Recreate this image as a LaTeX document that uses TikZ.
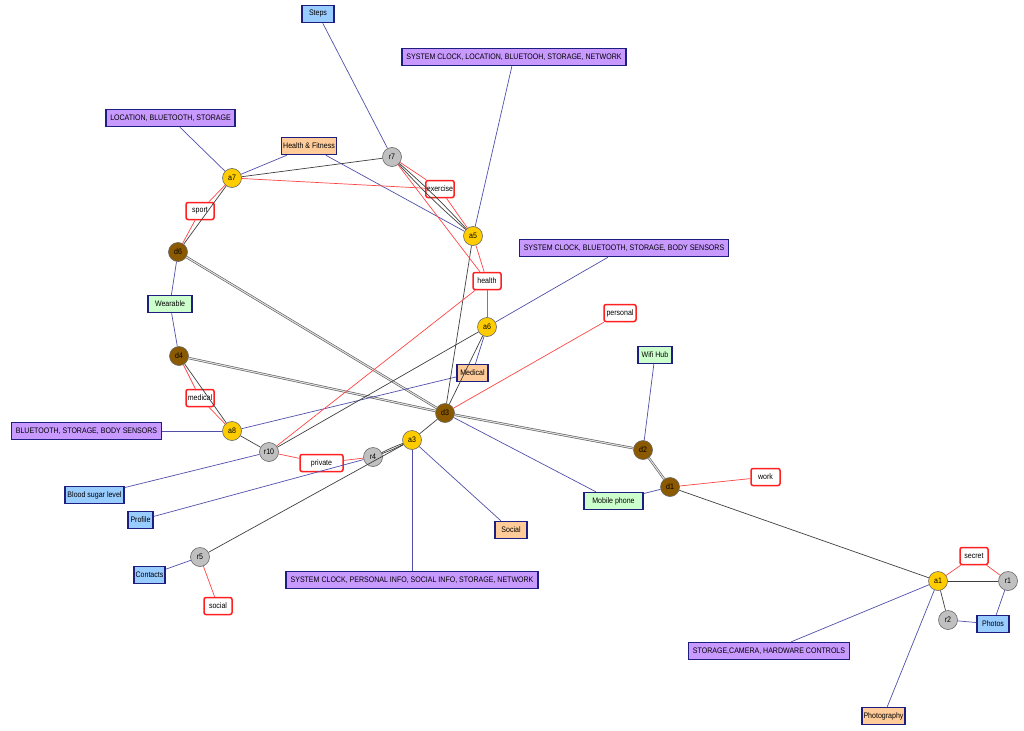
\documentclass[tikz,border=0pt]{standalone}
\usepackage{fontspec}
\setmainfont[FakeStretch=0.88]{Liberation Sans}
\definecolor{purpfill}{HTML}{C899FF}
\definecolor{bluefill}{HTML}{99CCFF}
\definecolor{orfill}{HTML}{FFCC99}
\definecolor{grfill}{HTML}{CCFFCC}
\definecolor{navybd}{HTML}{1E1E80}
\definecolor{yelfill}{HTML}{FFCC00}
\definecolor{brnfill}{HTML}{8B5A00}
\definecolor{gryfill}{HTML}{C0C0C0}
\definecolor{circbd}{HTML}{666666}
\definecolor{blueedge}{HTML}{5050AA}
\definecolor{rededge}{HTML}{FF4545}
\definecolor{redbd}{HTML}{FF2020}
\begin{document}
\begin{tikzpicture}[x=1pt,y=-1pt,
  lbfont/.style={font=\fontsize{8}{9}\selectfont},
  box/.style={draw=navybd, line width=1.5pt, minimum height=17pt, inner xsep=1.5pt, inner ysep=0pt, lbfont},
  purp/.style={box, fill=purpfill, inner xsep=4.5pt},
  bluebox/.style={box, fill=bluefill},
  orbox/.style={box, fill=orfill},
  grbox/.style={box, fill=grfill},
  tag/.style={draw=redbd, line width=1.5pt, rounded corners=2pt, fill=white, minimum height=17pt, minimum width=28pt, inner xsep=1pt, inner ysep=0pt, lbfont},
  circ/.style={circle, draw=circbd, line width=0.6pt, minimum size=19pt, inner sep=0pt, lbfont},
  ye/.style={circ, fill=yelfill},
  br/.style={circ, fill=brnfill},
  gr/.style={circ, fill=gryfill},
  be/.style={draw=blueedge, line width=0.7pt},
  ke/.style={draw=black!75, line width=0.7pt},
  re/.style={draw=rededge, line width=0.7pt},
  de/.style={draw=black!65, double=black!12, double distance=1.1pt, line width=0.6pt}
]
\useasboundingbox[fill=white] (0,0) rectangle (1024,730);

% boxes
\node[bluebox, minimum width=32pt] (steps) at (318,14) {Steps};
\node[purp] (sys1) at (514,57) {SYSTEM CLOCK, LOCATION, BLUETOOH, STORAGE, NETWORK};
\node[purp] (lbs) at (170.5,118) {LOCATION, BLUETOOTH, STORAGE};
\node[orbox, minimum width=54pt] (hf) at (309,146) {Health \& Fitness};
\node[purp] (sys2) at (624,248) {SYSTEM CLOCK, BLUETOOTH, STORAGE, BODY SENSORS};
\node[grbox, minimum width=44pt] (wearable) at (170,304) {Wearable};
\node[grbox, minimum width=34pt] (wifi) at (655,355) {Wifi Hub};
\node[orbox, minimum width=31pt] (medbox) at (472.5,373) {Medical};
\node[purp] (bsbs) at (86.5,431) {BLUETOOTH, STORAGE, BODY SENSORS};
\node[bluebox, minimum width=59pt] (blood) at (94.5,495) {Blood sugar level};
\node[grbox, minimum width=59pt] (mobile) at (613.5,501) {Mobile phone};
\node[bluebox, minimum width=25pt] (profile) at (140.5,520) {Profile};
\node[orbox, minimum width=32pt] (socbox) at (511,530) {Social};
\node[bluebox, minimum width=31pt] (contacts) at (149.5,575) {Contacts};
\node[purp] (sys3) at (412,580) {SYSTEM CLOCK, PERSONAL INFO, SOCIAL INFO, STORAGE, NETWORK};
\node[bluebox, minimum width=32pt] (photos) at (993,624) {Photos};
\node[purp] (sch) at (769,651) {STORAGE,CAMERA, HARDWARE CONTROLS};
\node[orbox, minimum width=43pt] (photog) at (883.5,716) {Photography};

% tags
\node[tag] (exercise) at (440,189) {exercise};
\node[tag] (sport) at (200,211) {sport};
\node[tag] (health) at (487,281) {health};
\node[tag, minimum width=32pt] (personal) at (620,313) {personal};
\node[tag] (medical) at (200,398) {medical};
\node[tag, minimum width=43pt] (private) at (321.5,463) {private};
\node[tag, minimum width=29pt] (work) at (765.5,477) {work};
\node[tag] (secret) at (974,556) {secret};
\node[tag] (socialtag) at (218,606) {social};

% circles
\node[gr] (r7) at (392,157) {r7};
\node[ye] (a7) at (232,178) {a7};
\node[ye] (a5) at (473,236) {a5};
\node[br] (d6) at (178,252) {d6};
\node[ye] (a6) at (487,327) {a6};
\node[br] (d4) at (179,356) {d4};
\node[br] (d3) at (445,413) {d3};
\node[ye] (a8) at (232,431) {a8};
\node[ye] (a3) at (412,440) {a3};
\node[br] (d2) at (643,450) {d2};
\node[gr] (r10) at (269,452) {r10};
\node[gr] (r4) at (373,457) {r4};
\node[br] (d1) at (670,487) {d1};
\node[gr] (r5) at (200,557) {r5};
\node[ye] (a1) at (938,581) {a1};
\node[gr] (r1) at (1008,581) {r1};
\node[gr] (r2) at (948,620) {r2};

% double edges
\draw[de] (d6) -- (d3);
\draw[de] (d4) -- (d3);
\draw[de] (d3) -- (d2);
\draw[de] (d2) -- (d1);

% blue edges
\draw[be] (steps) -- (r7);
\draw[be] (sys1) -- (a5);
\draw[be] (lbs) -- (a7);
\draw[be] (hf) -- (a7);
\draw[be] (hf) -- (a5);
\draw[be] (sys2) -- (a6);
\draw[be] (wearable) -- (d6);
\draw[be] (wearable) -- (d4);
\draw[be] (wifi) -- (d2);
\draw[be] (medbox) -- (a6);
\draw[be] (medbox) -- (a8);
\draw[be] (bsbs) -- (a8);
\draw[be] (blood) -- (r10);
\draw[be] (profile) -- (r4);
\draw[be] (contacts) -- (r5);
\draw[be] (socbox) -- (a3);
\draw[be] (sys3) -- (a3);
\draw[be] (mobile) -- (d3);
\draw[be] (mobile) -- (d1);
\draw[be] (sch) -- (a1);
\draw[be] (photog) -- (a1);
\draw[be] (photos) -- (r1);
\draw[be] (photos) -- (r2);

% black edges
\draw[ke] (a7) -- (r7);
\draw[ke] (a7) -- (d6);
\draw[ke] (r7) to[bend left=3] (a5);
\draw[ke] (r7) to[bend right=3] (a5);
\draw[ke] (a5) -- (d3);
\draw[ke] (a6) -- (d3);
\draw[ke] (a6) -- (r10);
\draw[ke] (d3) -- (a3);
\draw[ke] (a3) to[bend left=3] (r4);
\draw[ke] (a3) to[bend right=3] (r4);
\draw[ke] (a3) -- (r5);
\draw[ke] (d4) -- (a8);
\draw[ke] (a8) -- (r10);
\draw[ke] (d1) -- (a1);
\draw[ke] (a1) -- (r1);
\draw[ke] (a1) -- (r2);

% red edges
\draw[re] (a7) -- (sport);
\draw[re] (sport) -- (d6);
\draw[re] (a7) -- (exercise);
\draw[re] (r7) -- (exercise);
\draw[re] (exercise) -- (a5);
\draw[re] (r7) -- (health);
\draw[re] (a5) -- (health);
\draw[re] (health) -- (a6);
\draw[re] (health) -- (r10);
\draw[re] (d3) -- (personal);
\draw[re] (d4) -- (medical);
\draw[re] (medical) -- (a8);
\draw[re] (r10) -- (private);
\draw[re] (private) -- (r4);
\draw[re] (d1) -- (work);
\draw[re] (r5) -- (socialtag);
\draw[re] (a1) -- (secret);
\draw[re] (secret) -- (r1);
\end{tikzpicture}
\end{document}
